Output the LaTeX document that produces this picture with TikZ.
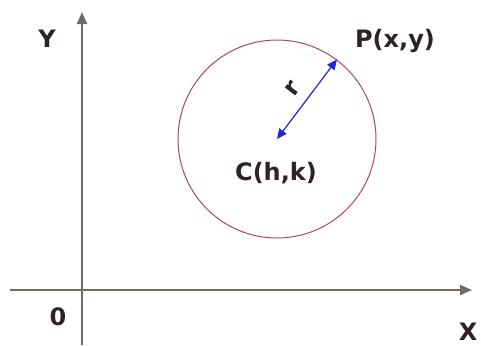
\documentclass[tikz,border=0pt]{standalone}
\usepackage{fontspec}
\setmainfont{DejaVu Sans}
\definecolor{ejegris}{RGB}{112,106,100}
\definecolor{circrojo}{RGB}{175,70,95}
\definecolor{radioazul}{RGB}{35,35,215}
\definecolor{textoscuro}{RGB}{45,35,35}
\usetikzlibrary{arrows.meta, positioning}

\begin{document}
\begin{tikzpicture}[x=0.5pt, y=-0.5pt,
            eje/.style={line width=1pt, draw=ejegris, -{Triangle[length=6pt, width=5pt]}},
            circulo/.style={circle, draw=circrojo, line width=0.5pt, minimum size=99pt, inner sep=0pt},
            radio/.style={line width=0.6pt, draw=radioazul, {Triangle[length=5pt, width=4.5pt]}-{Triangle[length=5pt, width=4.5pt]}},
            etiqueta/.style={font=\bfseries\fontsize{12}{14}\selectfont, text=textoscuro, inner sep=0pt, anchor=base}
        ]
            \useasboundingbox (0,0) rectangle (481,345);

            % Ejes
            \coordinate (xini) at (10,290);
            \coordinate (xfin) at (472,290);
            \coordinate (yini) at (82,345);
            \coordinate (yfin) at (82,12);
            \draw [eje] (xini) -- (xfin);
            \draw [eje] (yini) -- (yfin);

            % Circunferencia
            \node (circ) [circulo] at (277,139) {};

            % Textos
            \node (ylab) [etiqueta] at (47,47) {Y};
            \node (cero) [etiqueta] at (58,325) {0};
            \node (xlab) [etiqueta] at (468,340) {X};
            \node (punto) [etiqueta] at (395,47) {P(x,y)};
            \node (centro) [etiqueta] at (276,180) {C(h,k)};

            % Radio
            \draw [radio] (circ.center) -- node[sloped, above=5pt, font=\bfseries\fontsize{12}{14}\selectfont, text=textoscuro, inner sep=0pt] {r} (circ.53);
        \end{tikzpicture}
\end{document}
